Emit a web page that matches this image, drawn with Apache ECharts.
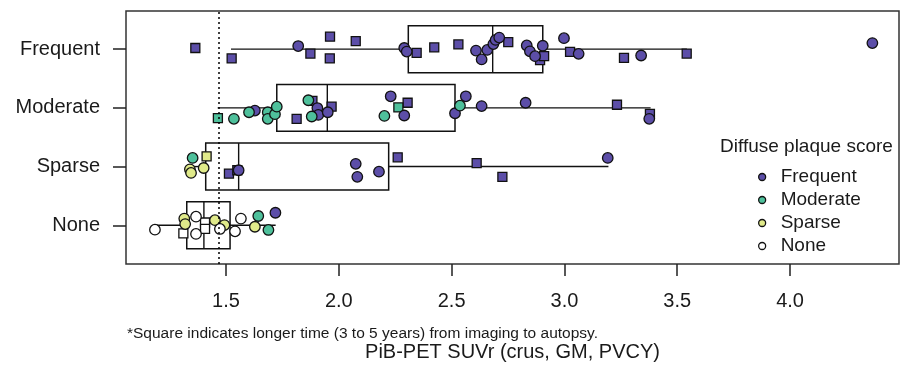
<!DOCTYPE html>
<html><head><meta charset="utf-8">
<script src="https://cdn.jsdelivr.net/npm/echarts@6/dist/echarts.min.js"></script>
<style>html,body{margin:0;padding:0;background:#fff}#c{width:900px;height:367px}</style>
</head><body><div id="c"></div>
<script>
// ---- data ----
const rows = ['None', 'Sparse', 'Moderate', 'Frequent'];          // y positions 1..4
const scores = ['Frequent', 'Moderate', 'Sparse', 'None'];         // diffuse plaque score
const scoreColors = ['#5c4ea8', '#4ec09b', '#e0ea8a', '#ffffff'];
const xTicks = [1.5, 2.0, 2.5, 3.0, 3.5, 4.0];
const threshold = 1.473;

// box statistics per row (None, Sparse, Moderate, Frequent)
const whiskerLow  = [1.185, 1.340, 1.463, 1.522];
const q1          = [1.326, 1.410, 1.725, 2.308];
const median      = [1.402, 1.556, 1.949, 2.682];
const q3          = [1.518, 2.221, 2.515, 2.904];
const whiskerHigh = [1.720, 3.195, 3.382, 3.543];

// points: [SUVr, vertical jitter, score index, square(1)/circle(0)]
const noneRowPts = [
  [1.185, -0.075, 3, 0], [1.367, 0.147, 3, 0], [1.367, -0.147, 3, 0], [1.473, -0.063, 3, 0],
  [1.540, -0.103, 3, 0], [1.566, 0.113, 3, 0],
  [1.311, -0.137, 3, 1], [1.407, 0.047, 3, 1], [1.407, -0.063, 3, 1],
  [1.315, 0.113, 2, 0], [1.319, 0.020, 2, 0], [1.451, 0.087, 2, 0], [1.493, 0.003, 2, 0], [1.628, -0.025, 2, 0],
  [1.643, 0.158, 1, 0], [1.688, -0.080, 1, 0],
  [1.719, 0.213, 0, 0]
];
const sparseRowPts = [
  [1.352, 0.147, 1, 0],
  [1.414, 0.175, 2, 1],
  [1.340, -0.047, 2, 0], [1.345, -0.108, 2, 0], [1.401, -0.025, 2, 0],
  [1.556, -0.063, 0, 0], [2.075, 0.047, 0, 0], [2.082, -0.175, 0, 0], [2.178, -0.087, 0, 0], [3.192, 0.147, 0, 0],
  [1.513, -0.120, 0, 1], [1.550, -0.063, 0, 1], [2.261, 0.158, 0, 1], [2.611, 0.058, 0, 1], [2.725, -0.175, 0, 1]
];
const moderateRowPts = [
  [1.813, -0.187, 0, 1], [1.883, 0.120, 0, 1], [1.968, 0.020, 0, 1], [2.305, 0.087, 0, 1],
  [3.233, 0.053, 0, 1], [3.379, -0.103, 0, 1],
  [1.464, -0.175, 1, 1], [2.264, 0.008, 1, 1],
  [1.628, -0.047, 0, 0], [1.905, -0.003, 0, 0], [1.909, -0.120, 0, 0], [1.951, -0.075, 0, 0],
  [2.230, 0.197, 0, 0], [2.290, -0.130, 0, 0], [2.515, -0.092, 0, 0], [2.563, 0.197, 0, 0],
  [2.633, 0.030, 0, 0], [2.828, 0.087, 0, 0], [3.376, -0.187, 0, 0],
  [1.535, -0.187, 1, 0], [1.602, -0.075, 1, 0], [1.685, -0.075, 1, 0], [1.685, -0.187, 1, 0],
  [1.717, -0.108, 1, 0], [1.725, 0.020, 1, 0], [1.865, 0.130, 1, 0], [1.880, -0.147, 1, 0],
  [2.202, -0.137, 1, 0], [2.537, 0.037, 1, 0]
];
const frequentRowPts = [
  [1.364, 0.020, 0, 1], [1.525, -0.158, 0, 1], [1.874, -0.075, 0, 1], [1.961, 0.213, 0, 1],
  [1.960, -0.158, 0, 1], [2.075, 0.137, 0, 1], [2.345, -0.063, 0, 1], [2.423, 0.030, 0, 1],
  [2.530, 0.080, 0, 1], [2.751, 0.120, 0, 1], [2.892, -0.187, 0, 1], [2.910, -0.120, 0, 1],
  [3.025, -0.047, 0, 1], [3.264, -0.147, 0, 1], [3.542, -0.075, 0, 1],
  [1.820, 0.053, 0, 0], [2.290, 0.020, 0, 0], [2.301, -0.042, 0, 0], [2.608, -0.025, 0, 0],
  [2.633, -0.175, 0, 0], [2.658, -0.013, 0, 0], [2.685, 0.087, 0, 0], [2.695, 0.158, 0, 0],
  [2.711, 0.197, 0, 0], [2.833, 0.063, 0, 0], [2.847, -0.037, 0, 0], [2.870, -0.120, 0, 0],
  [2.904, 0.058, 0, 0], [2.998, 0.187, 0, 0], [3.063, -0.080, 0, 0], [3.340, -0.108, 0, 0],
  [4.365, 0.103, 0, 0]
];

// ---- build ----
const FONT = '"Liberation Sans", Arial, Helvetica, sans-serif';
const rowPts = [noneRowPts, sparseRowPts, moderateRowPts, frequentRowPts];
const groups = {};
rowPts.forEach((pts, r) => pts.forEach(p => {
  const key = p[2] + '_' + p[3];
  (groups[key] = groups[key] || []).push([p[0], r + 1 + p[1]]);
}));

const scatterSeries = [];
[1, 0].forEach(sq => scores.forEach((s, si) => {
  const d = groups[si + '_' + sq];
  if (!d) return;
  scatterSeries.push({
    name: s, type: 'scatter', z: 3,
    symbol: sq ? 'rect' : 'circle',
    symbolSize: sq ? 9 : 10.5,
    itemStyle: { color: scoreColors[si], borderColor: '#111', borderWidth: 1.3, opacity: 1 },
    emphasis: { disabled: true },
    data: d
  });
}));

const boxData = rows.map((r, i) => [i + 1, whiskerLow[i], q1[i], median[i], q3[i], whiskerHigh[i]]);
const HALF = 0.4;
const boxSeries = {
  type: 'custom', z: 2,
  encode: { x: [1, 2, 3, 4, 5], y: 0 },
  data: boxData,
  renderItem: function (params, api) {
    const y = api.value(0);
    const lo = api.coord([api.value(1), y]);
    const a = api.coord([api.value(2), y]);
    const b = api.coord([api.value(4), y]);
    const hi = api.coord([api.value(5), y]);
    const tl = api.coord([api.value(2), y + HALF]);
    const br = api.coord([api.value(4), y - HALF]);
    const mt = api.coord([api.value(3), y + HALF]);
    const mb = api.coord([api.value(3), y - HALF]);
    const ls = { stroke: '#111', lineWidth: 1.4, fill: null };
    return { type: 'group', children: [
      { type: 'line', shape: { x1: lo[0], y1: lo[1], x2: a[0], y2: a[1] }, style: ls },
      { type: 'line', shape: { x1: b[0], y1: b[1], x2: hi[0], y2: hi[1] }, style: ls },
      { type: 'rect', shape: { x: tl[0], y: tl[1], width: br[0] - tl[0], height: br[1] - tl[1] },
        style: { stroke: '#111', lineWidth: 1.5, fill: 'none' } },
      { type: 'line', shape: { x1: mt[0], y1: mt[1], x2: mb[0], y2: mb[1] }, style: ls }
    ]};
  }
};

const refSeries = {
  type: 'line', data: [], z: 5, silent: true,
  markLine: {
    silent: true, symbol: 'none', animation: false,
    label: { show: false },
    lineStyle: { type: [2, 3], color: '#000', width: 1.5 },
    data: [{ xAxis: threshold }]
  }
};

const chart = echarts.init(document.getElementById('c'), null, { renderer: 'canvas' });
chart.setOption({
  animation: false,
  backgroundColor: '#fff',
  textStyle: { fontFamily: FONT },
  grid: { left: 126, right: 1, top: 11, bottom: 98, show: true, borderColor: '#333', borderWidth: 1.5, backgroundColor: 'transparent' },
  xAxis: {
    type: 'value', min: 1.0567, max: 4.483,
    axisLine: { show: false },
    splitLine: { show: false },
    axisTick: { show: true, customValues: xTicks, length: 12, lineStyle: { color: '#222', width: 1.5 } },
    axisLabel: { customValues: xTicks, formatter: v => Number(v).toFixed(1), fontSize: 20, color: '#1a1a1a', margin: 27, fontFamily: FONT },
    name: 'PiB-PET SUVr (crus, GM, PVCY)', nameLocation: 'middle', nameGap: 78,
    nameTextStyle: { fontSize: 20, color: '#1a1a1a', fontFamily: FONT }
  },
  yAxis: {
    type: 'value', min: 0.34, max: 4.65,
    axisLine: { show: false },
    splitLine: { show: false },
    axisTick: { show: true, customValues: [1, 2, 3, 4], length: 13, lineStyle: { color: '#222', width: 1.5 } },
    axisLabel: { customValues: [1, 2, 3, 4], formatter: v => rows[Math.round(v) - 1], fontSize: 20, color: '#1a1a1a', margin: 26, fontFamily: FONT }
  },
  legend: {
    orient: 'vertical', left: 758, top: 165.5, itemGap: 0, padding: 0,
    itemWidth: 7, itemHeight: 7, selectedMode: false,
    textStyle: { fontSize: 19, lineHeight: 23, color: '#1a1a1a', padding: [0, 0, 0, 10], fontFamily: FONT },
    data: scores.map((s, i) => ({ name: s, icon: 'circle', itemStyle: { color: scoreColors[i], borderColor: '#111', borderWidth: 1.3 } }))
  },
  graphic: [
    { type: 'text', left: 720, top: 137, style: { text: 'Diffuse plaque score', fontSize: 19, fill: '#1a1a1a', fontFamily: FONT } },
    { type: 'text', left: 127, top: 326, style: { text: '*Square indicates longer time (3 to 5 years) from imaging to autopsy.', fontSize: 15.5, fill: '#1a1a1a', fontFamily: FONT } }
  ],
  series: [boxSeries].concat(scatterSeries, [refSeries])
});
</script></body></html>
